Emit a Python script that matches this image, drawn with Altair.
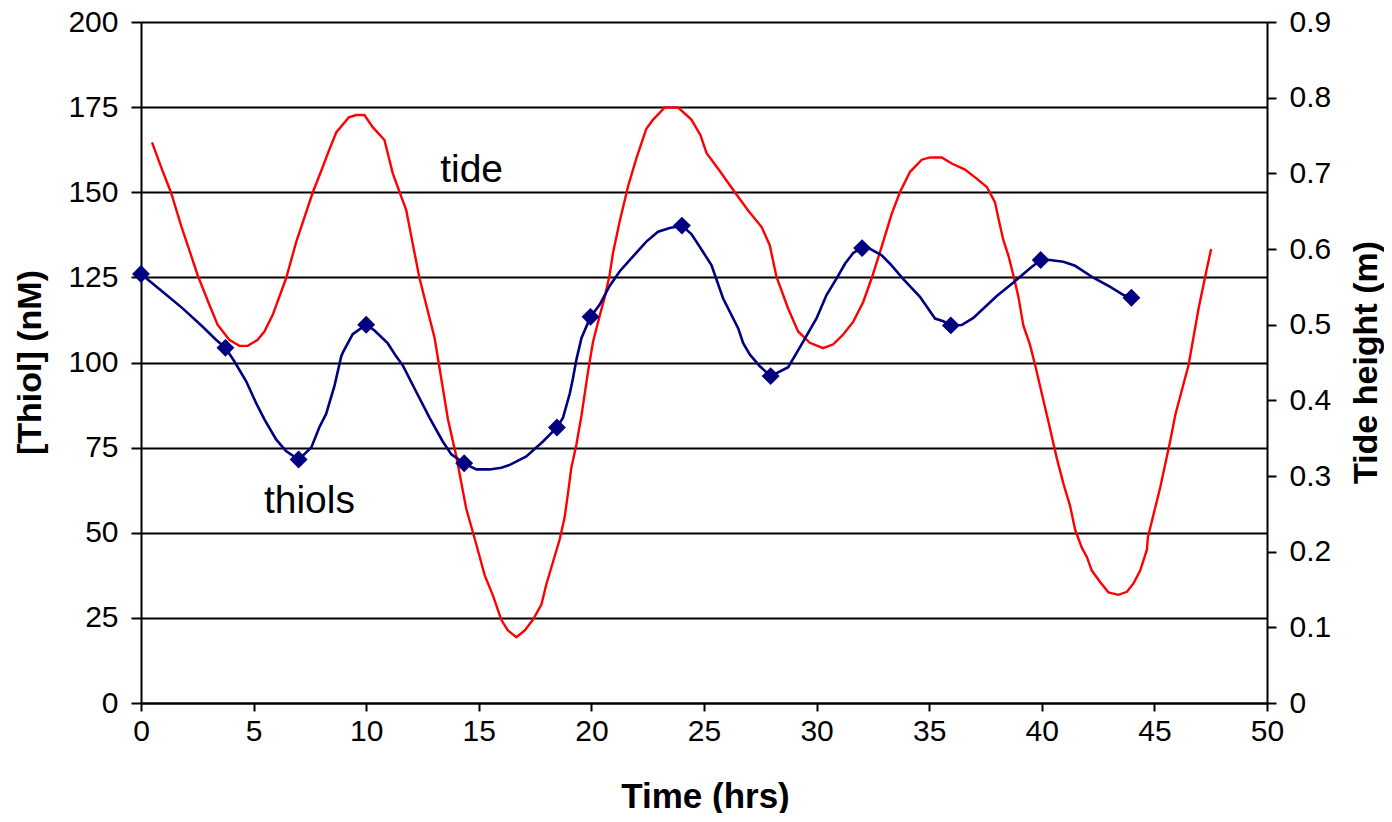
import altair as alt
import pandas as pd

# ---- data ----
tide_time = [0.49, 0.96, 1.33, 1.78, 2.22, 2.52, 3.04, 3.40, 3.92, 4.37, 4.74, 5.18, 5.48, 5.85,
             6.44, 6.89, 7.18, 7.63, 8.0, 8.37, 8.67, 9.23, 9.56, 9.92, 10.29, 10.81, 11.18, 11.78,
             12.0, 12.37, 13.04, 13.63, 14.0, 14.44, 14.81, 15.26, 15.63, 16.0, 16.29, 16.67, 17.04,
             17.40, 17.78, 18.0, 18.29, 18.59, 18.81, 18.96, 19.11, 19.33, 19.56, 19.85, 20.07, 20.37,
             20.59, 20.81, 20.96, 21.26, 21.63, 22.0, 22.44, 22.74, 23.26, 23.85, 24.44, 24.85, 25.11,
             25.70, 26.37, 26.96, 27.56, 27.92, 28.22, 28.74, 29.18, 29.70, 30.29, 30.74, 31.18, 31.63,
             32.07, 32.44, 32.89, 33.33, 33.70, 34.15, 34.67, 35.04, 35.56, 36.0, 36.59, 37.11, 37.56,
             37.92, 38.07, 38.29, 38.52, 38.74, 38.96, 39.18, 39.48, 39.70, 40.0, 40.30, 40.67, 40.96,
             41.26, 41.48, 41.78, 42.0, 42.22, 42.59, 42.96, 43.40, 43.78, 44.07, 44.37, 44.67, 44.71,
             45.26, 45.70, 45.93, 46.52, 46.96, 47.30, 47.52]
tide_height = [0.741, 0.703, 0.675, 0.631, 0.592, 0.565, 0.526, 0.500, 0.480, 0.472, 0.472, 0.480,
               0.491, 0.513, 0.561, 0.609, 0.635, 0.675, 0.703, 0.732, 0.754, 0.774, 0.777, 0.777,
               0.761, 0.744, 0.700, 0.651, 0.617, 0.561, 0.482, 0.375, 0.326, 0.257, 0.218, 0.169,
               0.142, 0.110, 0.096, 0.087, 0.096, 0.110, 0.130, 0.157, 0.186, 0.216, 0.245, 0.277,
               0.311, 0.341, 0.380, 0.438, 0.477, 0.512, 0.536, 0.566, 0.595, 0.637, 0.683, 0.720,
               0.759, 0.771, 0.787, 0.787, 0.771, 0.750, 0.727, 0.703, 0.675, 0.651, 0.629, 0.605,
               0.563, 0.521, 0.491, 0.476, 0.469, 0.474, 0.487, 0.504, 0.530, 0.561, 0.603, 0.646,
               0.675, 0.702, 0.718, 0.721, 0.721, 0.713, 0.705, 0.693, 0.682, 0.662, 0.641, 0.612,
               0.591, 0.565, 0.537, 0.499, 0.473, 0.447, 0.409, 0.371, 0.323, 0.290, 0.260, 0.229,
               0.205, 0.193, 0.175, 0.160, 0.146, 0.143, 0.147, 0.158, 0.175, 0.203, 0.219, 0.285,
               0.346, 0.381, 0.447, 0.521, 0.570, 0.600]

thiol_line_time = [0.0, 0.96, 1.85, 2.74, 3.33, 3.75, 4.15, 4.67, 5.11, 5.48, 6.0, 6.44, 7.0, 7.56,
                   7.92, 8.22, 8.59, 8.89, 8.96, 9.40, 10.0, 10.37, 10.96, 11.33, 11.63, 12.22, 12.81,
                   13.40, 13.78, 14.35, 14.89, 15.48, 16.0, 16.4, 17.11, 17.85, 18.47, 18.74, 19.04,
                   19.18, 19.33, 19.56, 19.96, 20.37, 20.81, 21.26, 21.92, 22.44, 22.96, 23.48, 24.02,
                   24.44, 24.81, 25.33, 25.85, 26.52, 26.74, 27.04, 27.48, 27.96, 28.74, 29.41, 30.0,
                   30.44, 30.89, 31.26, 31.63, 32.02, 32.37, 32.89, 33.26, 33.85, 34.59, 35.26, 35.63,
                   35.96, 36.44, 36.96, 37.48, 38.0, 38.74, 39.48, 39.95, 40.36, 40.96, 41.48, 42.29,
                   43.04, 43.63, 43.98]
thiol_line_value = [126.0, 120.8, 115.9, 110.5, 106.7, 104.3, 100.3, 94.5, 88.1, 83.3, 77.4, 74.0,
                    71.5, 75.0, 81.0, 84.9, 93.1, 101.8, 102.9, 108.3, 111.1, 109.4, 105.6, 101.8,
                    99.1, 91.4, 83.8, 76.8, 73.0, 70.4, 68.6, 68.6, 69.1, 70.0, 72.4, 76.8, 80.9,
                    83.8, 90.9, 95.3, 100.7, 107.2, 113.4, 117.0, 122.5, 126.8, 131.7, 135.5, 138.4,
                    139.5, 140.2, 137.7, 134.0, 128.6, 118.8, 110.0, 105.7, 102.3, 98.9, 96.0, 98.6,
                    106.2, 113.0, 119.8, 124.7, 129.0, 132.2, 133.6, 133.4, 131.5, 129.0, 124.5,
                    119.3, 112.9, 112.1, 110.9, 111.0, 113.1, 116.3, 119.5, 123.5, 127.7, 130.1,
                    130.1, 129.6, 128.4, 124.9, 122.2, 119.8, 119.0]

sample_time = [0.0, 3.75, 7.0, 10.0, 14.35, 18.47, 19.96, 24.02, 27.96, 32.02, 35.96, 39.95, 43.98]
sample_thiol = [126.0, 104.3, 71.5, 111.1, 70.4, 80.9, 113.4, 140.2, 96.0, 133.6, 110.9, 130.1, 119.0]

note_text = ["tide", "thiols"]
note_time = [14.68, 7.48]
note_value = [152.9, 55.9]

x_ticks = [0, 5, 10, 15, 20, 25, 30, 35, 40, 45, 50]
thiol_ticks = [0, 25, 50, 75, 100, 125, 150, 175, 200]
tide_ticks = [0, 0.1, 0.2, 0.3, 0.4, 0.5, 0.6, 0.7, 0.8, 0.9]

tide_df = pd.DataFrame({"t": tide_time, "h": tide_height})
thiol_df = pd.DataFrame({"t": thiol_line_time, "v": thiol_line_value})
sample_df = pd.DataFrame({"t": sample_time, "v": sample_thiol})
note_df = pd.DataFrame({"t": note_time, "v": note_value, "label": note_text})

FONT = "Liberation Sans"
NAVY = "#000080"
RED = "#FF0000"

x_enc = alt.X(
    "t:Q",
    scale=alt.Scale(domain=[0, 50], nice=False, zero=False),
    axis=alt.Axis(
        values=x_ticks, title="Time (hrs)", grid=False,
        domainColor="black", domainWidth=2, tickColor="black", tickWidth=2, tickSize=8,
        labelFontSize=30, labelColor="black", labelFont=FONT, labelPadding=5,
        titleFontSize=35, titleFontWeight="bold", titleColor="black", titleFont=FONT,
        titleX=564, titleY=93, titleAlign="center", titleBaseline="middle", labelFlush=False,
    ),
)

y_left = alt.Y(
    "v:Q",
    scale=alt.Scale(domain=[0, 200], nice=False, zero=True),
    axis=alt.Axis(
        orient="left", values=thiol_ticks, title="[Thiol] (nM)",
        grid=True, gridColor="black", gridWidth=2,
        domainColor="black", domainWidth=2, tickColor="black", tickWidth=2, tickSize=10,
        labelFontSize=30, labelColor="black", labelFont=FONT, labelPadding=13,
        titleFontSize=34, titleFontWeight="bold", titleColor="black", titleFont=FONT,
        titleAngle=270, titleX=-111, titleY=340, titleAlign="center", titleBaseline="middle",
    ),
)

thiol_line = alt.Chart(thiol_df).mark_line(color=NAVY, strokeWidth=2.6, clip=False).encode(
    x=x_enc, y=y_left
)
thiol_pts = alt.Chart(sample_df).mark_point(
    shape="diamond", filled=True, color=NAVY, size=320, opacity=1, clip=False
).encode(x=x_enc, y=y_left)
notes = alt.Chart(note_df).mark_text(
    font=FONT, fontSize=39, color="black", align="center", baseline="alphabetic"
).encode(x=x_enc, y=y_left, text="label:N")

left_layer = alt.layer(thiol_line, thiol_pts, notes)

tide_line = alt.Chart(tide_df).mark_line(color=RED, strokeWidth=2.4, clip=False).encode(
    x=x_enc,
    y=alt.Y(
        "h:Q",
        scale=alt.Scale(domain=[0, 0.9], nice=False, zero=True),
        axis=alt.Axis(
            orient="right", values=tide_ticks, format=".1~f", title="Tide height (m)",
            grid=False,
            domainColor="black", domainWidth=2, tickColor="black", tickWidth=2, tickSize=9,
            labelFontSize=30, labelColor="black", labelFont=FONT, labelPadding=13,
            titleFontSize=34, titleFontWeight="bold", titleColor="black", titleFont=FONT,
            titleAngle=270, titleX=99, titleY=340, titleAlign="center", titleBaseline="middle",
        ),
    ),
)

chart = (
    alt.layer(tide_line, left_layer)
    .resolve_scale(y="independent")
    .properties(
        width=1126, height=681,
        autosize=alt.AutoSizeParams(type="none"),
        padding={"left": 133, "top": 14, "right": 117, "bottom": 110},
        background="white",
    )
    .configure_view(strokeWidth=0)
)

chart.save("out.html", embed_options={"renderer": "svg", "actions": False})
